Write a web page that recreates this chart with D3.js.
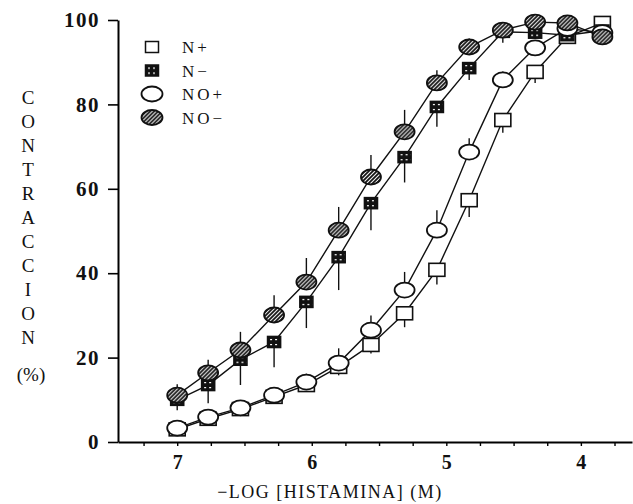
<!DOCTYPE html>
<html>
<head>
<meta charset="utf-8">
<script src="https://cdn.jsdelivr.net/npm/d3@7"></script>
<style>
  body { margin: 0; background: #fff; }
  svg { display: block; }
  text { font-family: "Liberation Serif", "DejaVu Serif", serif; fill: #111; }
</style>
</head>
<body>
<div id="chart"></div>
<script>
// --------------------------------------
//  Data
// --------------------------------------

// -log [histamina] of each dose
const logX = [7.0, 6.77, 6.53, 6.28, 6.04, 5.8, 5.56, 5.31, 5.07, 4.83, 4.58, 4.34, 4.1, 3.84];

// contraccion (%) and SEM for each group
const nPlus      = [3, 5.5, 7.8, 10.7, 13.5, 17.8, 23, 30.5, 40.8, 57.3, 76.3, 87.7, 96, 99.3];
const nPlusSem   = [1, 1, 1.5, 1.5, 1.5, 2, 2, 3.3, 3.5, 4, 3, 2.6, 1.5, 1];
const nMinus     = [10, 13.5, 19.5, 23.7, 33.2, 43.8, 56.6, 67.5, 79.4, 88.6, 97.2, 97, 96.4, 97.5];
const nMinusSem  = [2.5, 4.3, 6, 6, 6.2, 7.8, 6.4, 6, 4.7, 2.8, 2.6, 1.5, 1.5, 1];
const noPlus     = [3.3, 5.9, 8.1, 11.1, 14.2, 18.7, 26.5, 36, 50.2, 68.7, 85.8, 93.4, 98, 97];
const noPlusSem  = [1, 1.5, 1.5, 1.5, 2, 3.5, 3.5, 4.3, 4.7, 3.3, 2, 1.5, 1, 1];
const noMinus    = [11.1, 16.4, 21.8, 30.1, 37.9, 50.2, 62.8, 73.5, 85.1, 93.6, 97.6, 99.5, 99.3, 96];
const noMinusSem = [2.6, 3.1, 4.3, 4.7, 5.7, 5.5, 5.2, 5.2, 3, 2, 1.5, 1, 1, 1];

const groups = ["N+", "N\u2212", "NO+", "NO\u2212"];

const yTicks = [0, 20, 40, 60, 80, 100];
const xMinorTicks = [7.25, 7, 6.75, 6.5, 6.25, 6, 5.75, 5.5, 5.25, 5, 4.75, 4.5, 4.25, 4, 3.75];
const xLabels = [7, 6, 5, 4];

// --------------------------------------
//  Canvas
// --------------------------------------

const width = 633;
const height = 504;

const svg = d3.select("#chart")
  .append("svg")
    .attr("width", width)
    .attr("height", height);

const defs = svg.append("defs");

// dark mottled fill for the "-" groups
const patC = defs.append("pattern")
    .attr("id", "hatchC")
    .attr("patternUnits", "userSpaceOnUse")
    .attr("width", 4).attr("height", 4);
patC.append("rect").attr("width", 4).attr("height", 4).attr("fill", "#fff");
patC.append("path").attr("d", "M-1,1 l2,-2 M0,4 l4,-4 M3,5 l2,-2")
    .attr("stroke", "#111").attr("stroke-width", 1.8);

const patS = defs.append("pattern")
    .attr("id", "hatchS")
    .attr("patternUnits", "userSpaceOnUse")
    .attr("width", 5).attr("height", 5);
patS.append("rect").attr("width", 5).attr("height", 5).attr("fill", "#111");
patS.append("rect").attr("x", 1).attr("y", 2).attr("width", 2).attr("height", 1.2).attr("fill", "#fff");

// --------------------------------------
//  Scales
// --------------------------------------

const x = d3.scaleLinear().domain([7.44, 3.62]).range([118, 632]);
const y = d3.scaleLinear().domain([0, 100]).range([442, 20]);

// --------------------------------------
//  Axes
// --------------------------------------

const yAxis = svg.append("g")
    .attr("transform", `translate(${x(7.44)},0)`)
    .call(d3.axisLeft(y).tickValues(yTicks).tickSize(10).tickSizeOuter(0).tickPadding(8));

yAxis.select(".domain").attr("stroke-width", 2);
yAxis.selectAll(".tick line").attr("stroke-width", 1.6);
yAxis.selectAll(".tick text")
    .attr("font-size", 21)
    .attr("letter-spacing", 1.5)
    .attr("font-family", "Liberation Mono, monospace")
    .attr("font-weight", "bold");

const xAxis = svg.append("g")
    .attr("transform", `translate(0,${y(0)})`)
    .call(d3.axisBottom(x).tickValues(xMinorTicks).tickSize(4).tickSizeOuter(0)
      .tickFormat(d => xLabels.includes(d) ? d : ""));

xAxis.select(".domain").attr("stroke-width", 2);
xAxis.selectAll(".tick line").attr("stroke-width", 1.4);
xAxis.selectAll(".tick text")
    .attr("font-size", 20)
    .attr("dy", "1.0em")
    .attr("font-family", "Liberation Mono, monospace")
    .attr("font-weight", "bold");

svg.append("text")
    .attr("x", 330)
    .attr("y", 498)
    .attr("text-anchor", "middle")
    .attr("font-size", 18)
    .attr("letter-spacing", 1.5)
    .text("\u2212LOG [HISTAMINA] (M)");

// vertical y label, one letter per line
const yLetters = "CONTRACCION".split("");
svg.append("g")
  .selectAll("text")
  .data(yLetters)
  .join("text")
    .attr("x", 28)
    .attr("y", (d, i) => 104 + i * 24)
    .attr("text-anchor", "middle")
    .attr("font-size", 19)
    .text(d => d);

svg.append("text")
    .attr("x", 31)
    .attr("y", 381)
    .attr("text-anchor", "middle")
    .attr("font-size", 19)
    .text("(%)");

// --------------------------------------
//  Series
// --------------------------------------

const series = [
  {name: groups[0], vals: nPlus,   sem: nPlusSem,   shape: "square", fill: "#fff",          dir: 1},
  {name: groups[1], vals: nMinus,  sem: nMinusSem,  shape: "square", fill: "url(#hatchS)",  dir: 1},
  {name: groups[2], vals: noPlus,  sem: noPlusSem,  shape: "circle", fill: "#fff",          dir: -1},
  {name: groups[3], vals: noMinus, sem: noMinusSem, shape: "circle", fill: "url(#hatchC)",  dir: -1}
];

const line = d3.line()
  .x(d => x(d.x))
  .y(d => y(d.v));

series.forEach(s => {
  s.points = logX.map((lx, i) => ({x: lx, v: s.vals[i], e: s.sem[i]}));
});

const plot = svg.append("g");

// connecting lines
plot.selectAll("path.curve")
  .data(series)
  .join("path")
    .attr("class", "curve")
    .attr("d", s => line(s.points))
    .attr("fill", "none")
    .attr("stroke", "#111")
    .attr("stroke-width", 1.4);

// one-sided error bars (up for NO, down for N)
series.forEach(s => {
  plot.append("g")
    .selectAll("line")
    .data(s.points)
    .join("line")
      .attr("x1", d => x(d.x))
      .attr("x2", d => x(d.x))
      .attr("y1", d => y(d.v))
      .attr("y2", d => y(d.v - s.dir * d.e))
      .attr("stroke", "#111")
      .attr("stroke-width", 1.4);
});

function drawMarker(g, shape, fill, big) {
  if (shape === "square") {
    const w = big ? 16 : 13, h = big ? 13 : 11;
    g.append("rect")
      .attr("x", -w / 2).attr("y", -h / 2)
      .attr("width", w).attr("height", h)
      .attr("fill", fill)
      .attr("stroke", "#111")
      .attr("stroke-width", 1.6);
  } else {
    g.append("ellipse")
      .attr("rx", 10).attr("ry", 7.5)
      .attr("fill", fill)
      .attr("stroke", "#111")
      .attr("stroke-width", 1.8);
  }
}

series.forEach((s, si) => {
  plot.append("g")
    .selectAll("g")
    .data(s.points)
    .join("g")
      .attr("transform", d => `translate(${x(d.x)},${y(d.v)})`)
      .each(function() { drawMarker(d3.select(this), s.shape, s.fill, si === 0); });
});

// --------------------------------------
//  Legend
// --------------------------------------

const legend = svg.append("g")
  .selectAll("g")
  .data(series)
  .join("g")
    .attr("transform", (d, i) => `translate(152,${47 + i * 23.5})`);

legend.each(function(s, i) {
  const g = d3.select(this);
  const m = g.append("g");
  if (s.shape === "square") {
    m.append("rect")
      .attr("x", -6.5).attr("y", -5.5).attr("width", 13).attr("height", 11)
      .attr("fill", s.fill).attr("stroke", "#111").attr("stroke-width", 1.5);
  } else {
    m.append("ellipse")
      .attr("rx", 10.5).attr("ry", 7.5)
      .attr("fill", s.fill).attr("stroke", "#111").attr("stroke-width", 1.8);
  }
  g.append("text")
    .attr("x", 30)
    .attr("y", 6)
    .attr("font-size", 17)
    .attr("letter-spacing", 3)
    .text(s.name);
});
</script>
</body>
</html>
